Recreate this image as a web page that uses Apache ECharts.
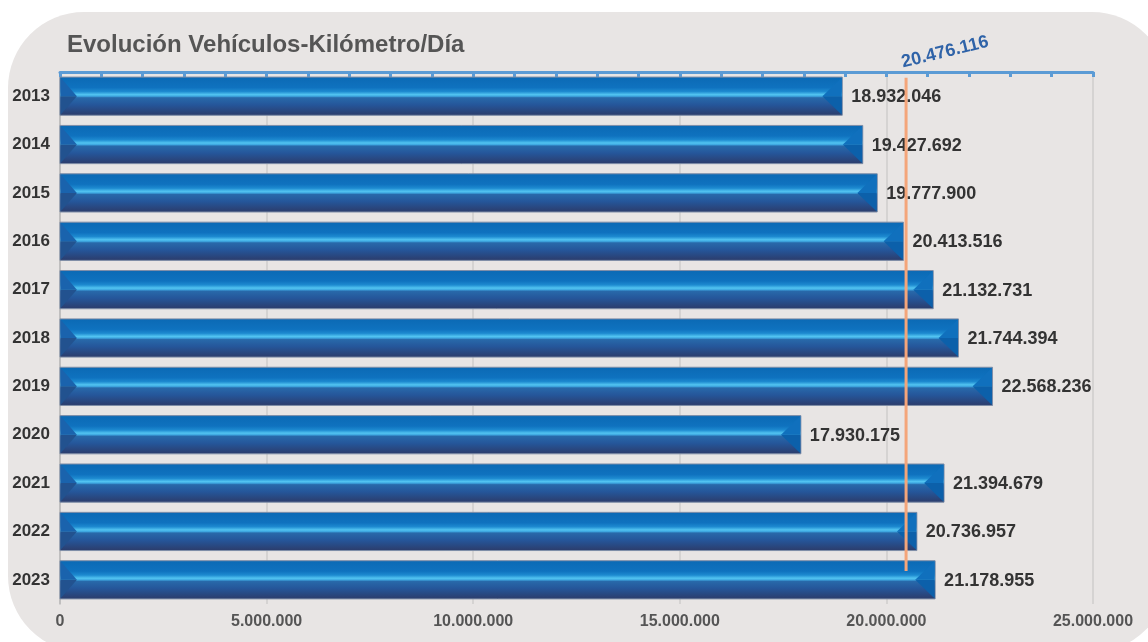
<!DOCTYPE html>
<html>
<head>
<meta charset="utf-8">
<script src="https://cdn.jsdelivr.net/npm/echarts@6/dist/echarts.min.js"></script>
<style>
  html, body { margin: 0; padding: 0; background: #fff; }
  #chart { width: 1148px; height: 642px; }
</style>
</head>
<body>
<div id="chart"></div>
<script>
const years = ['2013', '2014', '2015', '2016', '2017', '2018', '2019', '2020', '2021', '2022', '2023'];
const vehKm = [18932046, 19427692, 19777900, 20413516, 21132731, 21744394, 22568236, 17930175, 21394679, 20736957, 21178955];
const average = 20476116;
const xTicks = [0, 5000000, 10000000, 15000000, 20000000, 25000000];

const fmt = (v) => String(Math.round(v)).replace(/\B(?=(\d{3})+(?!\d))/g, '.');
const FONT = '"Liberation Sans", Arial, sans-serif';

const chart = echarts.init(document.getElementById('chart'));

const barFill = new echarts.graphic.LinearGradient(0, 0, 0, 1, [
  { offset: 0, color: '#0b69b4' },
  { offset: 0.28, color: '#0f72bf' },
  { offset: 0.38, color: '#1d8ad0' },
  { offset: 0.46, color: '#52c4f1' },
  { offset: 0.5, color: '#3fa9e2' },
  { offset: 0.54, color: '#2869aa' },
  { offset: 0.72, color: '#25569a' },
  { offset: 1, color: '#2c3b69' }
]);

const renderBar = (params, api) => {
  const val = api.value(0);
  const idx = api.value(1);
  const start = api.coord([0, idx]);
  const end = api.coord([val, idx]);
  const h = api.size([0, 1])[1] * 0.79;
  const x0 = start[0], x1 = end[0];
  const y0 = end[1] - h / 2, y1 = end[1] + h / 2, yc = end[1];
  const bw = h * 0.52;
  return {
    type: 'group',
    children: [
      { type: 'rect', shape: { x: x0, y: y0, width: x1 - x0, height: h },
        style: { fill: barFill, stroke: '#7f8ea8', lineWidth: 1 } },
      { type: 'polygon', shape: { points: [[x0 + 0.5, y0 + 0.5], [x0 + bw * 0.85, yc], [x0 + 0.5, yc]] },
        style: { fill: '#1a63ad' } },
      { type: 'polygon', shape: { points: [[x0 + 0.5, yc], [x0 + bw * 0.85, yc], [x0 + 0.5, y1 - 0.5]] },
        style: { fill: '#22528f' } },
      { type: 'polygon', shape: { points: [[x1 - 0.5, y0 + 0.5], [x1 - bw, yc], [x1 - 0.5, yc]] },
        style: { fill: '#1070bd' } },
      { type: 'polygon', shape: { points: [[x1 - 0.5, yc], [x1 - bw, yc], [x1 - 0.5, y1 - 0.5]] },
        style: { fill: '#0c60aa' } },
      { type: 'text', x: x1 + 9, y: yc + 1,
        style: { text: fmt(val), fill: '#333', font: 'bold 18px ' + FONT,
          textAlign: 'left', textVerticalAlign: 'middle' } }
    ]
  };
};

const renderAverage = (params, api) => {
  const v = api.value(0);
  const top = api.coord([v, 0]);
  const bottom = api.coord([v, years.length - 1]);
  const band = api.size([0, 1])[1];
  return {
    type: 'group',
    children: [
      { type: 'line', shape: { x1: top[0], y1: top[1] - band * 0.38, x2: top[0], y2: bottom[1] - band * 0.18 },
        style: { stroke: '#f4a57a', lineWidth: 3 } },
      { type: 'text', x: top[0] + 39, y: top[1] - 44, rotation: 0.24,
        style: { text: fmt(v), fill: '#2f63a8', font: 'bold 18px ' + FONT,
          textAlign: 'center', textVerticalAlign: 'middle' } }
    ]
  };
};

const option = {
  animation: false,
  backgroundColor: '#ffffff',
  graphic: [
    { type: 'rect', left: 8, top: 12, z: -10,
      shape: { width: 1160, height: 640, r: 76 },
      style: { fill: '#e8e5e4' } }
  ],
  title: {
    text: 'Evolución Vehículos-Kilómetro/Día',
    left: 62, top: 28,
    textStyle: { color: '#555', fontSize: 24, fontWeight: 'bold', fontFamily: FONT }
  },
  grid: { left: 60, right: 55, top: 72, bottom: 38 },
  xAxis: [
    {
      type: 'value', min: 0, max: 25000000, interval: 5000000, position: 'bottom',
      axisLine: { show: false },
      axisTick: { show: false },
      splitLine: { show: true, lineStyle: { color: '#cfcdcc', width: 1.5 } },
      axisLabel: {
        margin: 10, color: '#555', fontSize: 16, fontWeight: 'bold', fontFamily: FONT,
        formatter: (v) => xTicks.includes(v) ? fmt(v) : ''
      }
    },
    {
      type: 'value', min: 0, max: 25000000, interval: 1000000, position: 'top',
      axisLine: { show: true, lineStyle: { color: '#5b9bd5', width: 3 } },
      axisTick: { show: true, inside: true, length: 5, lineStyle: { color: '#5b9bd5', width: 3 } },
      axisLabel: { show: false },
      splitLine: { show: false }
    }
  ],
  yAxis: {
    type: 'category', data: years, inverse: true,
    axisLine: { show: true, lineStyle: { color: '#b9b9b9', width: 1.5 } },
    axisTick: { show: false },
    axisLabel: { margin: 10, color: '#333', fontSize: 17, fontWeight: 'bold', fontFamily: FONT }
  },
  series: [
    {
      type: 'custom', xAxisIndex: 0,
      renderItem: renderBar,
      encode: { x: 0, y: 1 },
      data: vehKm.map((v, i) => [v, i]),
      z: 2
    },
    {
      type: 'custom', xAxisIndex: 0,
      renderItem: renderAverage,
      encode: { x: 0 },
      data: [[average]],
      z: 3
    }
  ]
};

chart.setOption(option);
</script>
</body>
</html>
